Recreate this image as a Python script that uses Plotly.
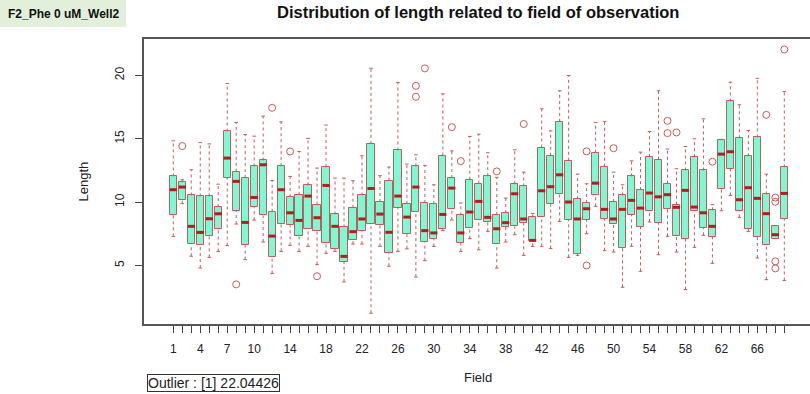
import plotly.graph_objects as go

# Per-field five-number summaries of observed lengths
fields = list(range(1, 70))

lower = [7.29, 9.87, 5.72, 4.79, 5.63, 6.10, 6.56, 8.26, 5.45, 8.57,
         6.84, 4.35, 6.10, 6.58, 6.10, 6.50, 5.06, 5.95, 6.10, 3.69,
         6.68, 6.68, 1.22, 6.50, 4.93, 6.10, 6.30, 4.08, 5.37, 6.50,
         7.74, 8.58, 6.10, 7.11, 6.23, 7.68, 4.78, 6.84, 7.42, 5.79,
         6.50, 6.50, 6.32, 8.47, 5.63, 5.79, 7.50, 9.66, 6.16, 6.05,
         3.27, 6.50, 4.53, 8.42, 5.84, 7.29, 6.05, 3.09, 6.42, 7.37,
         5.16, 9.31, 10.52, 8.79, 7.68, 5.58, 3.87, 7.11, 3.80]

q1 = [9.00, 10.13, 6.69, 6.58, 7.34, 7.86, 11.89, 9.31, 6.58, 9.63,
      8.94, 5.63, 8.29, 8.16, 7.34, 7.87, 7.68, 6.76, 6.32, 5.27,
      7.03, 7.68, 8.29, 8.21, 5.95, 9.52, 7.50, 9.21, 6.84, 7.08,
      7.89, 9.44, 6.76, 7.95, 8.55, 8.45, 6.71, 8.03, 8.08, 8.34,
      6.89, 8.78, 9.84, 10.63, 8.60, 5.90, 8.60, 10.58, 8.68, 8.26,
      6.37, 9.00, 8.03, 9.26, 8.34, 9.47, 7.29, 7.10, 9.26, 7.94,
      7.24, 11.02, 12.62, 9.31, 7.87, 7.21, 6.58, 7.11, 8.68]

median = [10.97, 11.18, 8.08, 7.60, 8.68, 9.07, 13.47, 11.63, 8.39, 10.36,
          12.94, 7.31, 10.97, 9.15, 8.55, 10.47, 8.76, 11.31, 8.08, 5.71,
          7.66, 8.66, 11.07, 9.05, 7.61, 10.47, 8.81, 11.18, 7.74, 7.56,
          9.02, 11.10, 7.56, 9.21, 10.05, 8.79, 7.89, 8.37, 10.65, 8.66,
          6.97, 10.89, 11.21, 12.15, 10.00, 8.66, 9.47, 11.49, 9.42, 8.66,
          9.42, 10.13, 9.52, 10.71, 10.41, 10.58, 9.58, 10.92, 9.60, 9.15,
          8.08, 13.78, 13.97, 10.18, 11.13, 10.29, 9.08, 7.42, 10.68]

q3 = [12.02, 11.57, 10.52, 10.44, 10.44, 9.60, 15.57, 12.39, 11.89, 12.81,
      13.28, 9.23, 12.83, 10.40, 10.57, 11.31, 9.79, 12.76, 9.02, 8.00,
      9.55, 10.52, 14.59, 10.00, 11.68, 14.07, 9.85, 12.81, 9.92, 9.84,
      13.67, 11.89, 8.95, 11.76, 11.44, 12.04, 8.97, 9.13, 11.41, 11.23,
      8.79, 14.30, 13.65, 16.33, 13.25, 10.24, 9.92, 13.89, 12.78, 10.00,
      10.52, 12.02, 10.94, 13.54, 13.33, 11.44, 9.79, 12.49, 13.54, 12.49,
      9.34, 14.91, 17.94, 15.04, 13.62, 15.10, 10.60, 8.13, 12.73]

upper = [14.83, 11.76, 12.55, 14.69, 14.59, 11.41, 19.35, 16.28, 15.33, 15.20,
         16.78, 11.70, 16.33, 12.02, 13.99, 15.02, 12.68, 16.07, 11.89, 11.89,
         11.68, 13.65, 20.56, 12.08, 12.76, 19.43, 13.00, 13.73, 12.89, 11.36,
         18.54, 14.04, 9.92, 15.18, 15.36, 13.89, 11.95, 10.31, 14.12, 12.36,
         9.10, 17.36, 15.62, 18.78, 19.99, 12.20, 11.44, 16.28, 16.36, 12.36,
         11.36, 13.25, 13.94, 15.57, 18.78, 14.18, 12.63, 14.38, 14.99, 16.57,
         9.79, 14.95, 19.46, 17.68, 15.65, 19.77, 12.20, 8.13, 18.72]

outlier_field = [2, 8, 12, 14, 17, 28, 28, 29, 32, 33, 37, 40, 47, 47, 50,
                 56, 56, 57, 61, 67, 68, 68, 68, 68, 69]
outlier_value = [14.42, 3.50, 17.44, 13.99, 4.14, 18.31, 19.17, 20.55, 15.91,
                 13.23, 12.42, 16.16, 14.00, 4.99, 14.25, 16.41, 15.44, 15.49,
                 13.18, 16.88, 10.35, 10.02, 5.32, 4.76, 22.04426]

field_labels = [1, 4, 7, 10, 14, 18, 22, 26, 30, 34, 38, 42, 46, 50, 54, 58, 62, 66]
y_ticks = [5, 10, 15, 20]

BOX_FILL = "#7DF9D3"
BORDER = "#C95A5A"
MEDIAN = "#B01E1E"
BOX_HALF = 0.4   # boxwex 0.8
CAP_HALF = 0.2   # staple half-width

# Dashed whiskers from box to extremes
wx, wy = [], []
for f, lo, a, b, hi in zip(fields, lower, q1, q3, upper):
    wx += [f, f, None, f, f, None]
    wy += [b, hi, None, lo, a, None]

# Whisker end staples
cx, cy = [], []
for f, lo, hi in zip(fields, lower, upper):
    cx += [f - CAP_HALF, f + CAP_HALF, None, f - CAP_HALF, f + CAP_HALF, None]
    cy += [hi, hi, None, lo, lo, None]

# Median bars
mx, my = [], []
for f, m in zip(fields, median):
    mx += [f - BOX_HALF, f + BOX_HALF, None]
    my += [m, m, None]

fig = go.Figure()
fig.add_trace(go.Bar(
    x=fields, base=q1, y=[b - a for a, b in zip(q1, q3)], width=2 * BOX_HALF,
    marker=dict(color=BOX_FILL, line=dict(color=BORDER, width=1)),
    hoverinfo="skip"))
fig.add_trace(go.Scatter(x=wx, y=wy, mode="lines",
                         line=dict(color=BORDER, width=1, dash="3px,3px"),
                         hoverinfo="skip"))
fig.add_trace(go.Scatter(x=cx, y=cy, mode="lines",
                         line=dict(color=BORDER, width=1), hoverinfo="skip"))
fig.add_trace(go.Scatter(x=mx, y=my, mode="lines",
                         line=dict(color=MEDIAN, width=3), hoverinfo="skip"))
fig.add_trace(go.Scatter(x=outlier_field, y=outlier_value, mode="markers",
                         marker=dict(symbol="circle-open", size=7,
                                     color=BORDER, line=dict(width=1)),
                         hoverinfo="skip"))

FONT = "Liberation Sans, Arial, sans-serif"

fig.update_layout(
    width=810, height=394,
    margin=dict(l=144, r=0, t=39, b=70),
    plot_bgcolor="white", paper_bgcolor="white",
    showlegend=False, bargap=0,
    font=dict(family=FONT, size=12, color="#222222"),
    xaxis=dict(range=[-2.26, 71.86], tickmode="array", tickvals=fields,
               ticktext=[str(f) if f in field_labels else "" for f in fields],
               ticks="outside", ticklen=7, tickwidth=1, tickcolor="#444444",
               showline=True, linecolor="#555555", linewidth=1.5, mirror=True,
               showgrid=False, zeroline=False, ticklabelstandoff=6,
               tickfont=dict(size=12, color="#222222")),
    yaxis=dict(range=[0.37, 22.87], tickmode="array", tickvals=y_ticks,
               ticktext=[str(v) for v in y_ticks], tickangle=-90,
               ticks="outside", ticklen=7, tickwidth=1, tickcolor="#444444",
               showline=True, linecolor="#555555", linewidth=1.5,
               showgrid=False, zeroline=False, ticklabelstandoff=6,
               tickfont=dict(size=12, color="#222222")),
)

# Sheet-style label block in the top-left corner
fig.add_shape(type="rect", xref="paper", yref="paper",
              x0=-0.2162, x1=-0.2162 + 126 / 666, y0=1.1368 - 27 / 285, y1=1.1368,
              fillcolor="#E2EFDA", line=dict(width=0), layer="below")

annotations = [
    dict(text="<b>Distribution of length related to field of observation</b>",
         xref="paper", yref="paper", x=0.5015, y=1.095,
         xanchor="center", yanchor="middle", showarrow=False,
         font=dict(size=16.5, color="#111111")),
    dict(text="Field", xref="paper", yref="paper", x=0.5015, y=-0.186,
         xanchor="center", yanchor="middle", showarrow=False,
         font=dict(size=13, color="#222222")),
    dict(text="Length", xref="paper", yref="paper", x=-0.0901, y=0.5,
         xanchor="center", yanchor="middle", textangle=-90, showarrow=False,
         font=dict(size=13, color="#222222")),
    dict(text="<b>F2_Phe 0 uM_Well2</b>", xref="paper", yref="paper",
         x=-0.2162 + 63 / 666, y=1.1368 - 13.5 / 285,
         xanchor="center", yanchor="middle", showarrow=False,
         font=dict(size=12, color="#111111")),
    dict(text="Outlier : [1] 22.04426", xref="paper", yref="paper",
         x=0.0045, y=-0.1754, xanchor="left", yanchor="top", showarrow=False,
         bgcolor="white", bordercolor="#333333", borderwidth=1, borderpad=0,
         font=dict(size=14, color="#222222")),
]
fig.update_layout(annotations=annotations)

fig.write_html("out.html")
